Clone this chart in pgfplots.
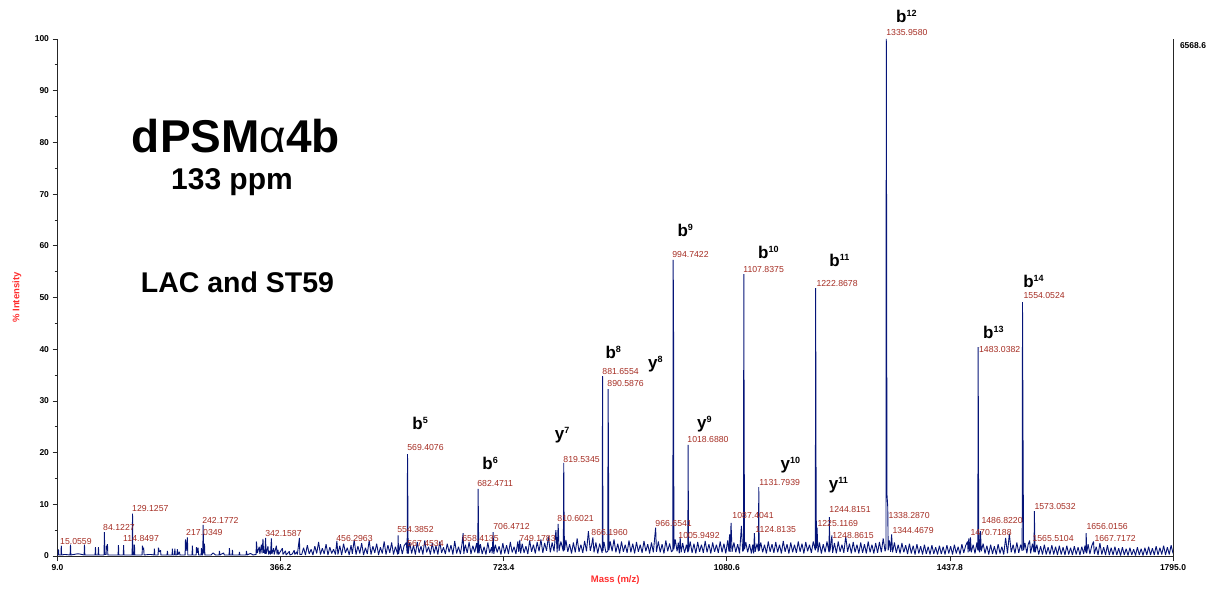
\documentclass[border=0pt]{standalone}
\usepackage{pgfplots}
\pgfplotsset{compat=1.18}
\usepackage{fontspec}
\setmainfont{Liberation Sans}
\definecolor{spec}{RGB}{5,20,120}
\definecolor{pklab}{RGB}{165,45,35}
\definecolor{axred}{RGB}{255,45,45}
\newcommand{\ion}[2]{{\fontsize{17}{17}\selectfont\bfseries #1\raisebox{6pt}{\fontsize{9}{9}\selectfont #2}}}
\newcommand{\pk}{\fontsize{8.7}{9}\selectfont\color{pklab}}
\begin{document}
\begin{tikzpicture}
\useasboundingbox (0,0) rectangle (1209pt,590pt);
\begin{axis}[
  at={(57.5pt,34pt)}, anchor=south west,
  scale only axis, width=1115.5pt, height=517pt,
  xmin=9, xmax=1795, ymin=0, ymax=100,
  axis x line=bottom, axis y line=left,
  axis line style={-, line width=1pt, black!85},
  xtick={9,366.2,723.4,1080.6,1437.8,1795},
  xticklabels={9.0,366.2,723.4,1080.6,1437.8,1795.0},
  ytick={0,10,...,100},
  minor ytick={5,15,...,95},
  tick align=outside,
  major tick length=5pt, minor tick length=3pt,
  tick style={black!85, line width=0.8pt},
  ticklabel style={font=\fontsize{8.5}{9}\selectfont\bfseries},
  /pgf/number format/assume math mode=true,
  clip=false,
]
\addplot[spec, line width=0.9pt, line join=bevel, mark=none] coordinates {
(9,0.2) (10.0,0.2) (10.6,1.3) (11.2,0.2) (14.5,0.2) (15.06,2.0) (15.6,0.2) (20,0.3) (21,0.3) (29.2,0.2) (29.8,2.2) (30.4,0.2)
(40,0.4) (44,0.4) (51.6,0.2) (52.2,2.2) (52.8,0.2) (60,0.2) (69.2,0.2) (69.8,1.7) (70.4,0.2) (74,0.2) (74.6,1.7) (75.2,0.2)
(83.5,0.2) (84.12,4.6) (84.7,0.3) (86.8,0.3) (87.4,2.0) (88.2,1.5) (89,2.3) (89.6,0.2) (106,0.2) (106.6,2.1) (107.2,0.2)
(114.3,0.2) (114.85,2.1) (115.4,0.2) (128.5,0.2) (129.13,8.2) (129.7,0.2) (131.6,0.2) (132.2,2.2) (132.8,0.2)
(144.4,0.2) (145,2.0) (146,1.2) (147,1.6) (147.6,0.2) (156,0.3) (158,0.3) (163.6,0.2) (164.2,1.4) (164.8,0.2)
(170,0.2) (170.6,1.6) (172,0.8) (174,1.1) (174.6,0.2) (184.4,0.2) (185,1.0) (185.6,0.2) (192.4,0.2) (193,1.4) (193.6,0.2)
(196,0.2) (197,1.4) (197.6,0.2) (200,0.2) (201,1.3) (201.6,0.2) (204.2,0.8) (205,0.2) (213.3,0.2) (213.9,3.2) (215,1.0)
(217.03,3.6) (217.6,0.2) (224.4,0.2) (225,2.0) (225.6,0.2) (231,0.2) (231.5,1.7) (233,0.6) (234,1.6) (235,0.2)
(238.9,0.2) (239.5,1.5) (240.3,0.2) (241.6,0.2) (242.18,6.0) (243,0.5) (244.3,2.4) (245,0.2) (255,0.2) (258,0.6) (262,0.2)
(267.7,0.2) (268.3,1.0) (269,0.2) (275,0.6) (276,0.2) (283.7,0.2) (284.3,1.5) (285,0.2) (288.5,0.2) (289.1,1.2) (289.7,0.2)
(299.7,0.2) (300.3,0.8) (301,0.2) (311,0.2) (311.5,1.0) (312.5,0.2) (318,0.5) (322,0.2) (326.9,0.3) (327.5,2.8) (329,0.6)
(332,1.8) (333,0.4) (335.5,2.2) (336.5,0.5) (338,3.3) (339,0.6) (340,1.2) (341,0.4) (342.16,3.5) (343,0.4) (346,1.9) (347,0.3)
(349,1.0) (350,0.3) (351.5,3.4) (352.3,0.4) (355,1.5) (356,0.3) (359.5,2.0) (360.5,0.3) (362,1.2) (363,0.3) (369.1,1.5)
(370,0.3) (374,1.0) (375,0.2) (380.3,0.9) (381,0.2) (385,0.4) (388,1.1) (389,0.3) (392,0.8) (393,0.3) (396.3,3.5) (397,0.3)
(400,0.3) (403,1.6) (406,0.2) (409,2.1) (412,0.4) (415,1.3) (418,0.2) (421,1.9) (424,0.5) (427,2.7) (430,0.3) (433,1.5)
(436,0.4) (439,2.3) (442,0.2) (445,1.7) (448,0.5) (451,1.3) (454,0.3) (456.3,2.9) (458,0.3) (461,2.0) (464,0.2) (467,2.4)
(470,0.6) (473,1.6) (476,0.2) (479,2.1) (481,0.4) (484,3.1) (487,0.3) (490,1.9) (493,0.5) (496,2.5) (499,0.2) (502,1.6)
(505,0.4) (508,3.0) (511,0.3) (514,1.9) (517,0.6) (520,2.4) (523,0.2) (526,1.7) (529,0.5) (532,2.8) (535,0.3) (538,2.1)
(541,0.6) (544,2.6) (547,0.3) (550,1.8) (553.8,0.3) (554.39,4.0) (555,0.4) (558,2.3) (561,0.4) (564,2.0) (567.45,2.6)
(568.8,0.5) (569.41,19.7) (569.9,10.8) (570.4,0.4) (573,2.6) (576,0.5) (579,2.1) (582,0.3) (585,2.7) (588,0.6) (591,1.9)
(594,0.3) (597,3.0) (600,0.7) (603,1.8) (606,0.3) (609,2.5) (612,0.5) (615,2.0) (618,0.3) (621,2.8) (624,0.6) (627,1.7)
(630,0.4) (633,2.4) (636,0.7) (639,2.1) (642,0.3) (645,2.9) (648,0.5) (651,1.8) (654,0.4) (656.5,2.2) (658.41,4.4)
(659.5,0.4) (662,2.2) (665,0.6) (668,2.7) (671,0.4) (674,2.0) (677,0.7) (680,2.5) (681.9,0.5) (682.47,13.0) (683.1,4.8)
(683.8,0.5) (686,2.3) (689,0.4) (692,1.8) (695,0.3) (698,2.6) (701,0.6) (704,1.7) (705,0.5) (706.47,4.6) (707.5,0.4)
(710,2.2) (713,0.7) (716,1.9) (719,0.3) (722,2.5) (725,0.5) (728,2.1) (731,0.4) (734,2.7) (737,0.7) (740,1.8) (743,0.4)
(746,2.8) (747.5,0.8) (749.18,3.1) (750.5,0.5) (753,2.4) (756,0.6) (759,1.9) (762,0.4) (765,3.0) (768,0.8) (771,2.2)
(774,0.5) (777,2.7) (780,0.9) (783,3.2) (786,0.6) (789,2.5) (792,1.0) (795,3.8) (798,0.7) (801,2.6) (804,0.9) (807,5.0)
(809,0.7) (810.6,6.2) (812,1.0) (815,2.8) (818.9,0.9) (819.53,18.0) (820.1,7.0) (820.7,1.1) (823,3.1) (826,0.8) (829,2.3)
(832,0.5) (835,2.6) (838,0.7) (841,3.4) (844,0.8) (847,2.2) (850,0.6) (853,2.9) (856,0.9) (859,4.8) (862,1.0) (864,2.0)
(866.2,3.6) (868,0.7) (871,2.6) (874,0.5) (877,2.4) (881.1,0.6) (881.66,34.8) (882.3,1.0) (884,2.7) (887,0.7) (890.0,0.9)
(890.59,32.3) (891.2,18.0) (891.8,1.1) (894,2.8) (897,0.9) (900,3.2) (903,0.7) (906,2.4) (909,0.5) (912,2.8) (915,0.8)
(918,2.2) (921,0.6) (924,3.0) (927,0.7) (930,2.4) (933,0.5) (936,2.7) (939,0.8) (942,2.2) (945,0.6) (948,2.9) (951,0.9)
(954,2.3) (957,0.5) (960,2.6) (963,0.7) (966.65,5.5) (968,0.8) (971,2.8) (974,0.7) (977,2.3) (980,0.5) (983,3.0) (986,0.9)
(989,2.4) (992,0.8) (994.2,1.1) (994.74,57.3) (995.3,46.2) (995.9,1.3) (998,3.2) (1001,0.9) (1003,2.6) (1004.5,0.5)
(1005.95,3.6) (1007.5,0.7) (1010,2.5) (1013,0.6) (1016,2.2) (1018.2,0.7) (1018.69,21.5) (1019.3,0.9) (1022,2.8) (1025,0.6)
(1028,2.4) (1031,0.5) (1034,2.7) (1037,0.8) (1040,2.2) (1043,0.6) (1046,2.9) (1049,0.7) (1052,2.3) (1055,0.5) (1058,2.6)
(1061,0.8) (1064,2.2) (1067,0.6) (1070,2.8) (1073,0.7) (1076,2.4) (1079,0.5) (1082,3.0) (1084,0.9) (1085,4.2) (1086,0.8)
(1087.4,6.4) (1089,0.8) (1092,2.6) (1095,0.7) (1098,2.3) (1101,0.5) (1104,5.8) (1106,0.9) (1107.3,1.1) (1107.84,54.5)
(1108.4,23.8) (1109,1.3) (1111,2.7) (1114,0.7) (1117,2.3) (1120,0.5) (1122,2.2) (1123.5,0.5) (1124.81,4.4) (1126,0.8)
(1129,2.4) (1131.3,0.9) (1131.79,13.3) (1132.4,1.0) (1135,2.6) (1138,0.7) (1141,2.2) (1144,0.5) (1147,2.8) (1150,0.8)
(1153,2.3) (1156,0.6) (1159,2.7) (1162,0.7) (1165,2.2) (1168,0.5) (1171,2.9) (1174,0.8) (1177,2.3) (1180,0.5) (1183,2.6)
(1186,0.7) (1189,2.2) (1192,0.6) (1195,2.8) (1198,0.8) (1201,2.4) (1204,0.5) (1207,2.7) (1210,0.9) (1213,2.2) (1216,0.6)
(1219,2.8) (1222.3,1.1) (1222.87,51.8) (1223.5,16.6) (1224.1,1.5) (1225.12,5.5) (1226.5,0.7) (1229,2.6) (1232,0.5)
(1235,2.3) (1238,0.7) (1241,2.8) (1244.3,0.7) (1244.82,7.5) (1245.5,0.9) (1247,2.0) (1248.86,4.0) (1250,0.6) (1253,2.5)
(1256,0.5) (1259,2.8) (1262,0.8) (1265,2.2) (1268,0.6) (1271,3.8) (1274,0.8) (1277,2.4) (1280,0.5) (1283,2.7) (1286,0.7)
(1289,2.2) (1292,0.5) (1295,2.6) (1298,0.6) (1301,2.3) (1304,0.5) (1307,2.8) (1310,0.7) (1313,2.2) (1316,0.5) (1319,2.5)
(1322,0.6) (1325,2.7) (1328,0.7) (1331,3.4) (1334,0.9) (1335.4,1.5) (1335.96,100) (1336.5,60) (1337.0,12) (1338.29,9.5)
(1339,1.1) (1341,3.0) (1343,0.8) (1344.47,4.2) (1346,0.7) (1349,2.6) (1352,0.6) (1355,2.2) (1358,0.5) (1361,2.5) (1364,0.7)
(1367,2.1) (1370,0.4) (1373,2.4) (1376,0.5) (1379,2.0) (1382,0.3) (1385,2.3) (1388,0.5) (1391,1.9) (1394,0.3) (1397,2.2)
(1400,0.4) (1403,1.8) (1406,0.3) (1409,2.1) (1412,0.4) (1415,1.7) (1418,0.3) (1421,2.0) (1424,0.4) (1427,1.8) (1430,0.3)
(1433,2.1) (1436,0.5) (1439,1.9) (1442,0.3) (1445,2.2) (1448,0.5) (1451,1.8) (1454,0.3) (1457,2.3) (1460,0.6) (1463,2.0)
(1466,2.8) (1467,0.7) (1468,3.4) (1469.5,0.9) (1470.72,3.6) (1472,0.7) (1475,2.2) (1478,0.5) (1481,2.6) (1482.5,1.1)
(1483.04,40.4) (1483.6,16.6) (1484.2,1.3) (1485.5,0.7) (1486.82,4.8) (1488,0.9) (1491,2.4) (1494,0.5) (1497,2.0) (1500,0.3)
(1503,2.2) (1506,0.4) (1509,1.9) (1512,0.3) (1515,2.3) (1518,0.5) (1521,1.8) (1524,0.3) (1527,3.5) (1530,0.5) (1533,4.3)
(1536,0.7) (1539,2.2) (1542,0.5) (1545,2.6) (1548,0.6) (1551,2.2) (1553.5,1.0) (1554.05,49.1) (1554.6,31.1) (1555.2,14.3)
(1555.8,1.1) (1558,2.5) (1561,0.5) (1563,2.2) (1565.51,3.0) (1567,0.5) (1570,2.4) (1572.5,0.7) (1573.05,8.7) (1573.7,3.4)
(1574.4,0.7) (1577,2.2) (1580,0.3) (1583,1.9) (1586,0.3) (1589,2.2) (1592,0.3) (1595,1.7) (1598,0.3) (1601,2.1) (1604,0.3)
(1607,1.8) (1610,0.2) (1613,2.0) (1616,0.3) (1619,1.7) (1622,0.2) (1625,2.0) (1628,0.3) (1631,1.6) (1634,0.2) (1637,1.9)
(1640,0.3) (1643,1.7) (1646,0.2) (1649,1.8) (1652,0.4) (1654,2.0) (1655.5,0.7) (1656.02,4.4) (1656.8,0.5) (1659,2.3)
(1662,0.4) (1665,2.0) (1667.72,2.8) (1669,0.4) (1672,1.8) (1675,0.2) (1678,2.5) (1681,0.3) (1684,1.7) (1687,0.2) (1690,2.1)
(1693,0.2) (1696,1.6) (1699,0.2) (1702,1.8) (1705,0.2) (1708,1.5) (1711,0.1) (1714,1.7) (1717,0.2) (1720,1.4) (1723,0.1)
(1726,1.6) (1729,0.2) (1732,1.3) (1735,0.1) (1738,1.7) (1741,0.2) (1744,1.4) (1747,0.1) (1750,1.6) (1753,0.2) (1756,1.8)
(1759,0.2) (1762,1.5) (1765,0.2) (1768,1.9) (1771,0.2) (1774,1.6) (1777,0.3) (1780,2.0) (1783,0.2) (1786,1.7) (1789,0.3)
(1792,2.1) (1795,0.5)
};
% right-hand scale line
\draw[black!85, line width=1pt] (axis cs:1795,0) -- (axis cs:1795,100);
\node[anchor=west, inner sep=0pt, font=\fontsize{8.5}{9}\selectfont\bfseries] at (axis cs:1805.9,98.65) {6568.6};
% peak labels
\node[anchor=west, inner sep=0pt] at (axis cs:13.0,2.71) {\pk 15.0559};
\node[anchor=west, inner sep=0pt] at (axis cs:81.9,5.42) {\pk 84.1227};
\node[anchor=west, inner sep=0pt] at (axis cs:128.3,9.28) {\pk 129.1257};
\node[anchor=west, inner sep=0pt] at (axis cs:113.9,3.29) {\pk 114.8497};
\node[anchor=west, inner sep=0pt] at (axis cs:214.8,4.45) {\pk 217.0349};
\node[anchor=west, inner sep=0pt] at (axis cs:240.5,6.96) {\pk 242.1772};
\node[anchor=west, inner sep=0pt] at (axis cs:341.4,4.26) {\pk 342.1587};
\node[anchor=west, inner sep=0pt] at (axis cs:455.1,3.48) {\pk 456.2963};
\node[anchor=west, inner sep=0pt] at (axis cs:552.8,5.03) {\pk 554.3852};
\node[anchor=west, inner sep=0pt] at (axis cs:568.8,2.51) {\pk 567.4534};
\node[anchor=west, inner sep=0pt] at (axis cs:568.8,20.89) {\pk 569.4076};
\node[anchor=west, inner sep=0pt] at (axis cs:656.9,3.48) {\pk 658.4135};
\node[anchor=west, inner sep=0pt] at (axis cs:680.9,13.93) {\pk 682.4711};
\node[anchor=west, inner sep=0pt] at (axis cs:706.5,5.80) {\pk 706.4712};
\node[anchor=west, inner sep=0pt] at (axis cs:748.2,3.29) {\pk 749.1783};
\node[anchor=west, inner sep=0pt] at (axis cs:809.1,7.16) {\pk 810.6021};
\node[anchor=west, inner sep=0pt] at (axis cs:818.7,18.76) {\pk 819.5345};
\node[anchor=west, inner sep=0pt] at (axis cs:863.6,4.45) {\pk 866.1960};
\node[anchor=west, inner sep=0pt] at (axis cs:881.2,35.78) {\pk 881.6554};
\node[anchor=west, inner sep=0pt] at (axis cs:889.2,33.27) {\pk 890.5876};
\node[anchor=west, inner sep=0pt] at (axis cs:966.1,6.38) {\pk 966.6541};
\node[anchor=west, inner sep=0pt] at (axis cs:993.1,58.22) {\pk 994.7422};
\node[anchor=west, inner sep=0pt] at (axis cs:1002.9,4.06) {\pk 1005.9492};
\node[anchor=west, inner sep=0pt] at (axis cs:1017.3,22.63) {\pk 1018.6880};
\node[anchor=west, inner sep=0pt] at (axis cs:1089.4,7.74) {\pk 1087.4041};
\node[anchor=west, inner sep=0pt] at (axis cs:1106.8,55.51) {\pk 1107.8375};
\node[anchor=west, inner sep=0pt] at (axis cs:1126.2,5.03) {\pk 1124.8135};
\node[anchor=west, inner sep=0pt] at (axis cs:1132.6,14.31) {\pk 1131.7939};
\node[anchor=west, inner sep=0pt] at (axis cs:1223.9,52.80) {\pk 1222.8678};
\node[anchor=west, inner sep=0pt] at (axis cs:1225.5,6.38) {\pk 1225.1169};
\node[anchor=west, inner sep=0pt] at (axis cs:1244.7,8.90) {\pk 1244.8151};
\node[anchor=west, inner sep=0pt] at (axis cs:1249.5,4.06) {\pk 1248.8615};
\node[anchor=west, inner sep=0pt] at (axis cs:1335.7,101.16) {\pk 1335.9580};
\node[anchor=west, inner sep=0pt] at (axis cs:1339.2,7.93) {\pk 1338.2870};
\node[anchor=west, inner sep=0pt] at (axis cs:1345.6,4.84) {\pk 1344.4679};
\node[anchor=west, inner sep=0pt] at (axis cs:1470.5,4.45) {\pk 1470.7188};
\node[anchor=west, inner sep=0pt] at (axis cs:1484.3,39.85) {\pk 1483.0382};
\node[anchor=west, inner sep=0pt] at (axis cs:1488.1,6.77) {\pk 1486.8220};
\node[anchor=west, inner sep=0pt] at (axis cs:1555.5,50.48) {\pk 1554.0524};
\node[anchor=west, inner sep=0pt] at (axis cs:1569.8,3.29) {\pk 1565.5104};
\node[anchor=west, inner sep=0pt] at (axis cs:1573.0,9.67) {\pk 1573.0532};
\node[anchor=west, inner sep=0pt] at (axis cs:1656.3,5.61) {\pk 1656.0156};
\node[anchor=west, inner sep=0pt] at (axis cs:1669.1,3.29) {\pk 1667.7172};
% ion labels
\node[inner sep=0pt] at (axis cs:1368.2,104.45) {\ion{b}{12}};
\node[inner sep=0pt] at (axis cs:1014.1,63.06) {\ion{b}{9}};
\node[inner sep=0pt] at (axis cs:1147.1,58.80) {\ion{b}{10}};
\node[inner sep=0pt] at (axis cs:1260.8,57.25) {\ion{b}{11}};
\node[inner sep=0pt] at (axis cs:898.8,39.46) {\ion{b}{8}};
\node[inner sep=0pt] at (axis cs:966.1,37.14) {\ion{y}{8}};
\node[inner sep=0pt] at (axis cs:1044.6,25.53) {\ion{y}{9}};
\node[inner sep=0pt] at (axis cs:589.6,25.73) {\ion{b}{5}};
\node[inner sep=0pt] at (axis cs:701.7,17.99) {\ion{b}{6}};
\node[inner sep=0pt] at (axis cs:817.1,23.40) {\ion{y}{7}};
\node[inner sep=0pt] at (axis cs:1182.3,17.60) {\ion{y}{10}};
\node[inner sep=0pt] at (axis cs:1259.2,13.73) {\ion{y}{11}};
\node[inner sep=0pt] at (axis cs:1507.5,43.33) {\ion{b}{13}};
\node[inner sep=0pt] at (axis cs:1571.6,53.19) {\ion{b}{14}};
% axis labels
\node[rotate=90, inner sep=0pt, text=axred, font=\fontsize{9.5}{10}\selectfont\bfseries] at ([xshift=-40.5pt]axis description cs:0,0.5) {\% Intensity};
\node[inner sep=0pt, text=axred, font=\fontsize{9.5}{10}\selectfont\bfseries] at ([yshift=-24pt]axis description cs:0.5,0) {Mass (m/z)};
\end{axis}
% titles
\node[anchor=base, inner sep=0pt, font=\fontsize{46}{46}\selectfont\bfseries] at (236pt,437pt) {dPSM{\mdseries α}4b};
\node[anchor=base, inner sep=0pt, font=\fontsize{30}{30}\selectfont\bfseries] at (232pt,400pt) {133 ppm};
\node[anchor=base, inner sep=0pt, font=\fontsize{28.5}{28.5}\selectfont\bfseries] at (237.5pt,298pt) {LAC and ST59};
\end{tikzpicture}
\end{document}
